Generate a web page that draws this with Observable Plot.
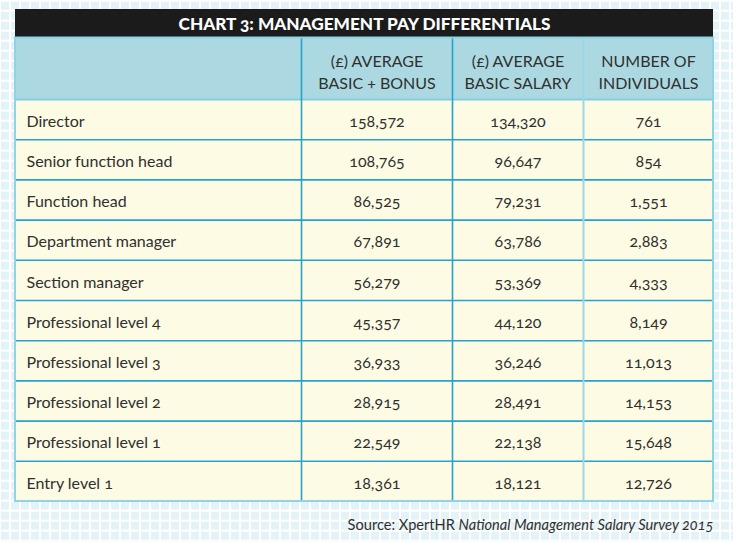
<!DOCTYPE html>
<html><head><meta charset="utf-8">
<script src="https://cdn.jsdelivr.net/npm/d3@7"></script>
<script src="https://cdn.jsdelivr.net/npm/@observablehq/plot@0.6"></script>
<style>
html,body{margin:0;padding:0;background:#fff;}
#chart svg{display:block;}
#chart svg text{font-variant-numeric: oldstyle-nums; font-feature-settings: "onum" 1;}
</style></head><body><div id="chart"></div>
<script>
const title = "CHART 3: MANAGEMENT PAY DIFFERENTIALS";
const headers = ["(£) AVERAGE\nBASIC + BONUS", "(£) AVERAGE\nBASIC SALARY", "NUMBER OF\nINDIVIDUALS"];
const categories = ["Director", "Senior function head", "Function head", "Department manager", "Section manager",
  "Professional level 4", "Professional level 3", "Professional level 2", "Professional level 1", "Entry level 1"];
const basicBonus = [158572, 108765, 86525, 67891, 56279, 45357, 36933, 28915, 22549, 18361];
const basicSalary = [134320, 96647, 79231, 63786, 53369, 44120, 36246, 28491, 22138, 18121];
const individuals = [761, 854, 1551, 2883, 4333, 8149, 11013, 14153, 15648, 12726];
const sourceLead = "Source: XpertHR ";
const sourceTitle = "National Management Salary Survey 2015";

// layout (pixels)
const W = 733, H = 542;
const colEdges = [15, 301, 452, 583, 713];
const L = colEdges[0], R = colEdges[colEdges.length - 1];
const titleTop = 9, headTop = 37.5, bodyTop = 99, rowH = 40.2;
const bodyBottom = bodyTop + rowH * categories.length;
const colCenter = j => (colEdges[j] + colEdges[j + 1]) / 2;
const fmt = d3.format(",");

const rows = categories.map((name, i) => ({name, i, y1: bodyTop + i * rowH, ym: bodyTop + (i + 0.5) * rowH}));
const series = [basicBonus, basicSalary, individuals];
const cells = rows.flatMap(r => series.map((arr, j) => ({ym: r.ym, col: j + 1, value: arr[r.i]})));
const headCells = headers.map((h, j) => ({text: h, col: j + 1}));

const ink = "#303030";
const font = "Lato, 'Open Sans', sans-serif";

const plot = Plot.plot({
  width: W, height: H, margin: 0,
  x: {type: "linear", domain: [0, W], range: [0, W], axis: null},
  y: {type: "linear", domain: [0, H], range: [0, H], axis: null},
  style: {fontFamily: font, background: "transparent"},
  marks: [
    Plot.rect([0], {x1: L, x2: R, y1: titleTop, y2: headTop, fill: "#1b1b1b"}),
    Plot.rect([0], {x1: L, x2: R, y1: headTop, y2: bodyTop, fill: "#acd9e1"}),
    Plot.rect([0], {x1: L, x2: R, y1: bodyTop, y2: bodyBottom, fill: "#fdfbe4"}),
    Plot.ruleY(rows.slice(1), {y: "y1", x1: L, x2: R, stroke: "#27a2cc", strokeWidth: 1.6}),
    Plot.ruleY([bodyTop], {x1: L, x2: R, stroke: "#7fcfe3", strokeWidth: 2}),
    Plot.ruleX([colEdges[1], colEdges[2]], {y1: headTop, y2: bodyBottom, stroke: "#27a2cc", strokeWidth: 1.6}),
    Plot.ruleX([colEdges[3]], {y1: headTop, y2: bodyBottom, stroke: "#9ad8e7", strokeWidth: 2}),
    Plot.rect([0], {x1: L, x2: R, y1: headTop, y2: bodyBottom, fill: "none", stroke: "#8ed3e6", strokeWidth: 2}),
    Plot.text([title], {x: (L + R) / 2, y: (titleTop + headTop) / 2 + 1, text: d => d, fill: "#ffffff",
      fontWeight: 900, fontSize: 17.2}),
    Plot.text(headCells, {x: d => colCenter(d.col), y: (headTop + bodyTop) / 2 + 2, text: "text",
      fill: ink, fontSize: 16, lineHeight: 1.42}),
    Plot.text(rows, {x: L + 11, y: "ym", dy: 2, text: "name", textAnchor: "start", fill: ink, fontSize: 16}),
    Plot.text(cells, {x: d => colCenter(d.col), y: "ym", dy: 2, text: d => fmt(d.value), fill: ink, fontSize: 16}),
    Plot.text([sourceLead + sourceTitle], {x: R, y: 525, text: d => d, textAnchor: "end", fill: ink,
      fontSize: 14.6})
  ]
});
plot.style.background = "#ffffff";
plot.style.backgroundImage = "linear-gradient(to right, #ffffff 2px, transparent 2px), linear-gradient(to bottom, #ffffff 2px, transparent 2px), linear-gradient(#e4f3f7, #e4f3f7)";
plot.style.backgroundSize = "10px 10px, 10px 10px, 100% 100%";
plot.style.backgroundPosition = "-1px 0px, 0px -0.3px, 0 0";
// italicise the survey title within the caption
for (const t of plot.querySelectorAll("text")) {
  if (t.textContent === sourceLead + sourceTitle) {
    t.textContent = "";
    const t1 = document.createElementNS("http://www.w3.org/2000/svg", "tspan");
    t1.textContent = sourceLead;
    const t2 = document.createElementNS("http://www.w3.org/2000/svg", "tspan");
    t2.textContent = sourceTitle;
    t2.setAttribute("font-style", "italic");
    t.append(t1, t2);
  }
}
document.getElementById("chart").append(plot);
</script></body></html>
